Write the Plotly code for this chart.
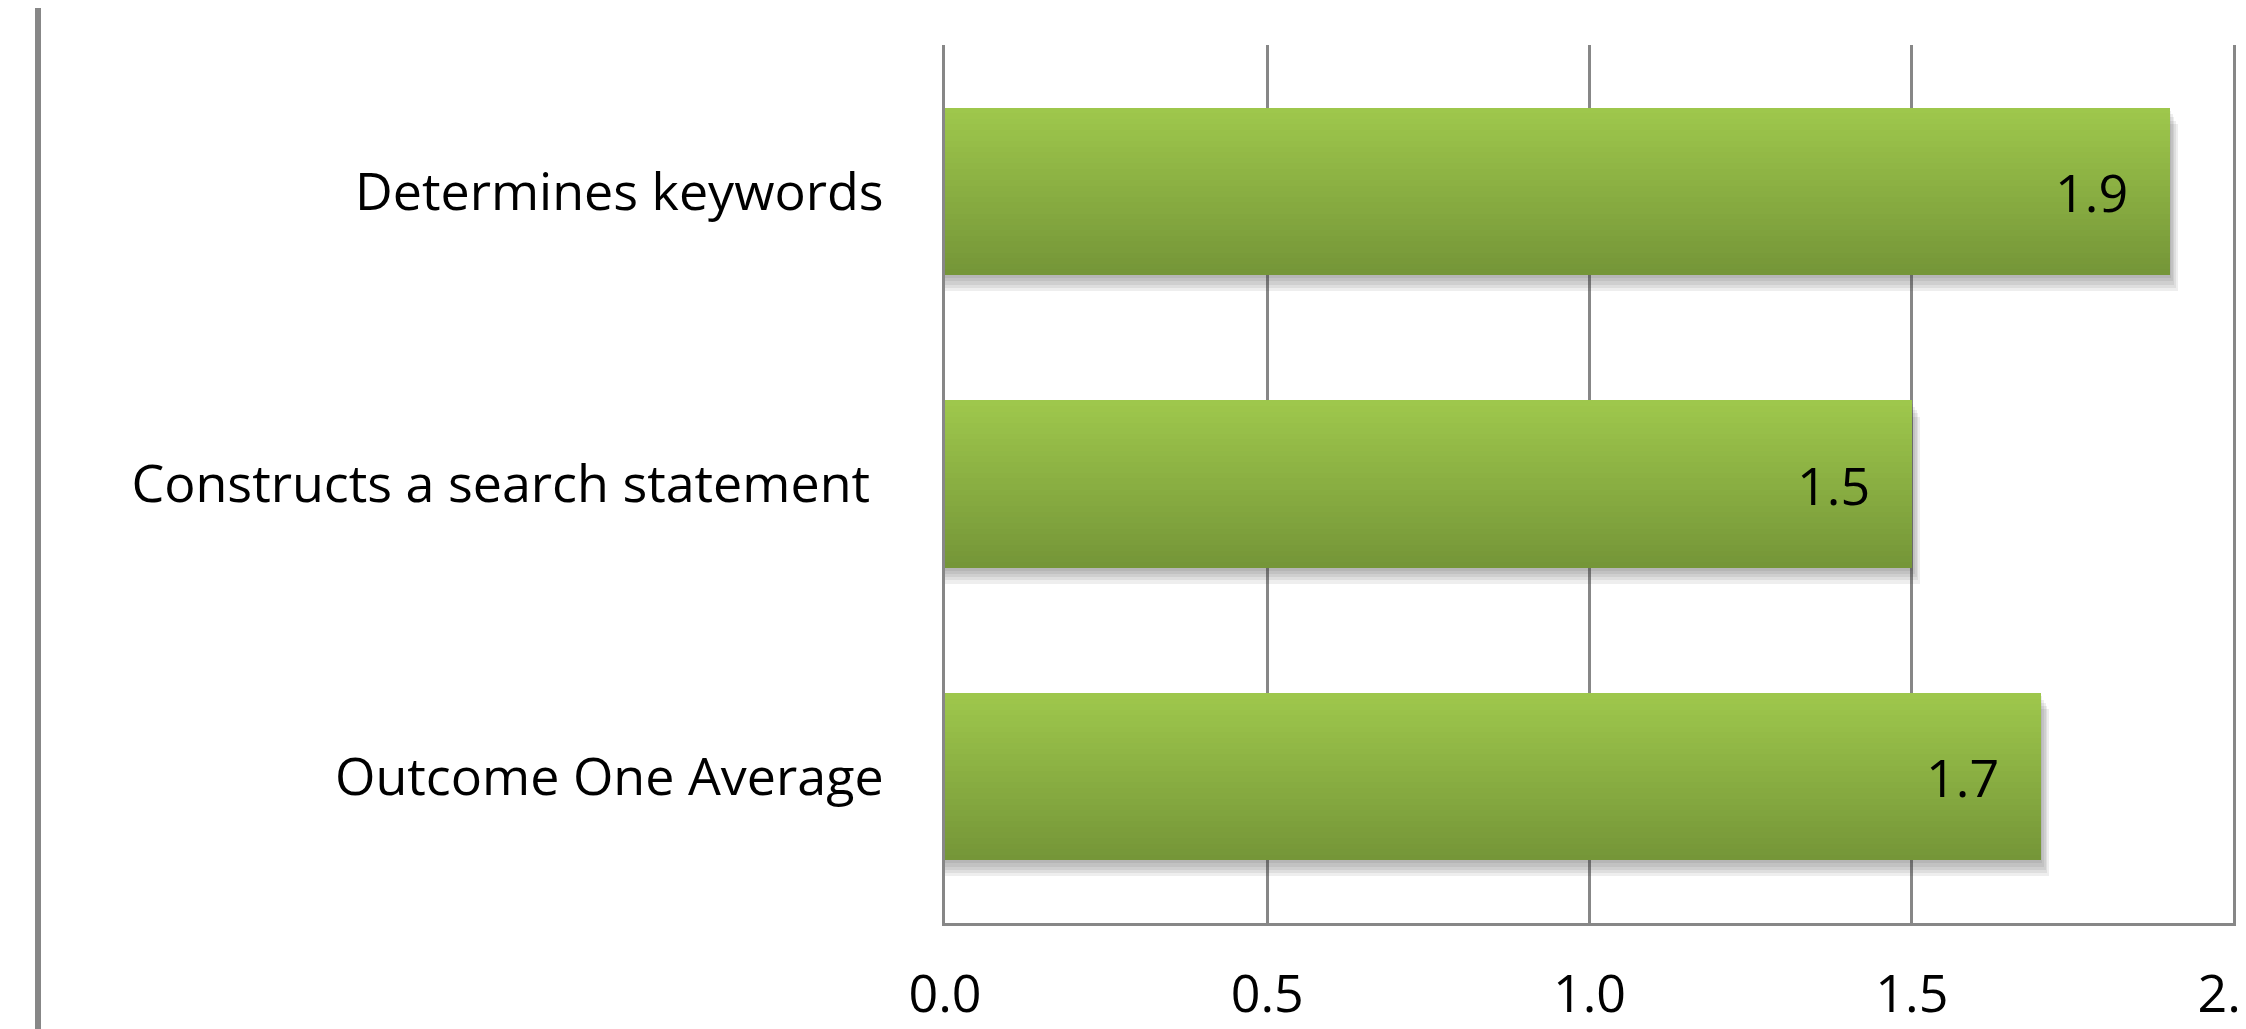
import plotly.graph_objects as go

categories = ["Determines keywords", "Constructs a search statement ", "Outcome One Average"]
values = [1.9, 1.5, 1.7]
value_labels = ["1.9", "1.5", "1.7"]
x_ticks = [0.0, 0.5, 1.0, 1.5, 2.0]
x_tick_labels = ["0.0", "0.5", "1.0", "1.5", "2.0"]

W, H = 2246, 1029
ML, MR, MT, MB = 937, 18, 37, 114
BAR_W = 0.571
FONT = "Open Sans"
FS = 52
GRID = "#878787"

top_rgb = (158, 199, 76)
bot_rgb = (117, 150, 56)

fig = go.Figure()

# shadow layers
n_sh = 5
for j in range(1, n_sh + 1):
    fig.add_trace(go.Bar(
        y=categories, x=[v + 0.0025 * j for v in values], orientation="h",
        offset=-BAR_W / 2 + 0.011 * j, width=BAR_W,
        marker=dict(color="rgba(60,60,60,0.085)", line=dict(width=0)),
        hoverinfo="skip", showlegend=False,
    ))

# gradient slices
n = 30
for k in range(n):
    t = k / (n - 1)
    c = tuple(round(top_rgb[i] + (bot_rgb[i] - top_rgb[i]) * t) for i in range(3))
    fig.add_trace(go.Bar(
        y=categories, x=values, orientation="h",
        offset=-BAR_W / 2 + k * BAR_W / n, width=BAR_W - k * BAR_W / n,
        marker=dict(color="rgb(%d,%d,%d)" % c, line=dict(width=0)),
        hoverinfo="skip", showlegend=False,
    ))

for cat, v, lab in zip(categories, values, value_labels):
    fig.add_annotation(x=v, y=cat, text=lab, showarrow=False,
                       xanchor="right", yanchor="middle", xshift=-40,
                       font=dict(family=FONT, size=FS, color="#000000"))

fig.add_shape(type="line", xref="paper", yref="paper",
              x0=(30 - ML) / (W - ML - MR), x1=(30 - ML) / (W - ML - MR),
              y0=-0.3, y1=1.2, line=dict(color=GRID, width=6))

fig.update_layout(
    width=W, height=H,
    margin=dict(l=ML, r=MR, t=MT, b=MB, pad=0, autoexpand=False),
    paper_bgcolor="white", plot_bgcolor="white",
    barmode="overlay", bargap=0,
    showlegend=False,
    font=dict(family=FONT, size=FS, color="#000000"),
    xaxis=dict(range=[0, 2.003], tickvals=x_ticks, ticktext=x_tick_labels,
               showgrid=True, gridcolor=GRID, gridwidth=2.5,
               showline=True, linecolor=GRID, linewidth=3,
               zeroline=False, ticks="", ticklabelstandoff=24,
               ticklabeloverflow="allow", automargin=False,
               tickfont=dict(family=FONT, size=FS, color="#000000")),
    yaxis=dict(type="category", categoryorder="array", categoryarray=categories,
               autorange="reversed", showgrid=False,
               showline=True, linecolor=GRID, linewidth=3,
               zeroline=False, ticks="", ticklabelstandoff=48, automargin=False,
               tickfont=dict(family=FONT, size=FS, color="#000000")),
)

fig.write_html("out.html")
